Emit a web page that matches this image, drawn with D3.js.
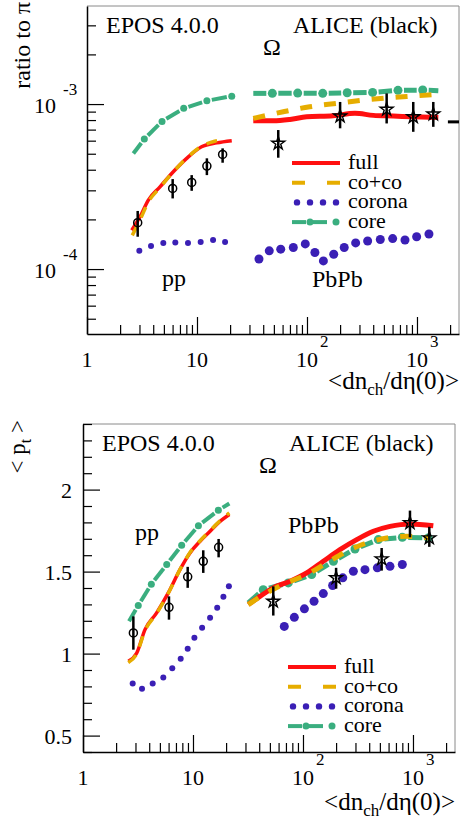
<!DOCTYPE html>
<html>
<head>
<meta charset="utf-8">
<script src="https://cdn.jsdelivr.net/npm/d3@7/dist/d3.min.js"></script>
<style>
  body { margin: 0; background: #fff; }
  svg { display: block; }
</style>
</head>
<body>
<div id="chart"></div>
<script>
// ---- data ----
const xDomain = [1, 2410];
const ratioDomain = [4.04e-5, 3.93e-3];
const ptDomain = [0.4, 2.4];

const xTickValues = [1, 10, 100, 1000];
const xTickText = ['1', '10', '10^2', '10^3'];
const ratioTickValues = [1e-4, 1e-3];
const ratioTickText = ['10^-4', '10^-3'];
const ptTickValues = [0.5, 1, 1.5, 2];
const ptTickText = ['0.5', '1', '1.5', '2'];

const legendLabels = ['full', 'co+co', 'corona', 'core'];

// ratio to pi : pp
const ratioFullPP = [[2.55,1.72e-4],[3.03,2.07e-4],[3.61,2.62e-4],[4.61,3.15e-4],[6.09,3.89e-4],[8.06,4.69e-4],[11.0,5.51e-4],[15.1,5.82e-4],[20.7,6.0e-4]];
const ratioCocoPP = [[2.58,1.6e-4],[3.05,2.0e-4],[3.61,2.55e-4],[4.61,3.12e-4],[6.09,3.88e-4],[8.06,4.7e-4],[11.0,5.55e-4],[14.5,5.95e-4],[17.8,6.12e-4]];
const ratioCorePP = [[2.64,5.02e-4,0],[3.32,6.14e-4,1],[4.81,7.85e-4,1],[7.57,9.42e-4,1],[12.3,1.047e-3,1],[20.7,1.117e-3,1]];
const ratioCoronaPP = [[2.99,1.29e-4],[3.82,1.38e-4],[4.94,1.44e-4],[6.35,1.45e-4],[8.28,1.44e-4],[10.8,1.46e-4],[14.0,1.50e-4],[18.0,1.46e-4]];
const ratioAlicePP = [[2.89,1.91e-4,1.57e-4,2.25e-4],[6.01,3.08e-4,2.68e-4,3.51e-4],[8.95,3.35e-4,2.98e-4,3.71e-4],[12.3,4.21e-4,3.71e-4,4.69e-4],[17.1,4.95e-4,4.41e-4,5.39e-4]];

// ratio to pi : PbPb
const ratioFullAA = [[32.5,7.92e-4],[49.4,7.92e-4],[70,8.07e-4],[99.4,8.37e-4],[173,8.49e-4],[273,8.79e-4],[401,8.54e-4],[609,8.46e-4],[925,8.37e-4],[1563,8.30e-4]];
const ratioCocoAA = [[32.5,8.19e-4],[60.9,8.98e-4],[106,9.63e-4],[186,1.01e-3],[325,1.057e-3],[569,1.092e-3],[925,1.118e-3],[1563,1.146e-3]];
const ratioCoreAA = [[32.5,1.161e-3,0],[48.4,1.161e-3,1],[82.3,1.166e-3,1],[139,1.161e-3,1],[232,1.171e-3,1],[395,1.177e-3,1],[672,1.211e-3,1],[1127,1.216e-3,1],[1563,1.204e-3,0]];
const ratioCoronaAA = [[36.6,1.15e-4],[45.4,1.29e-4],[57.7,1.32e-4],[75.1,1.35e-4],[96.5,1.42e-4],[118,1.26e-4],[141,1.12e-4],[175,1.23e-4],[218,1.35e-4],[277,1.44e-4],[356,1.48e-4],[464,1.51e-4],[601,1.53e-4],[778,1.50e-4],[993,1.57e-4],[1285,1.63e-4]];
const ratioAliceAA = [[54.8,5.78e-4,4.73e-4,6.96e-4],[200,8.46e-4,7.13e-4,1.03e-3],[530,9.29e-4,7.63e-4,1.161e-3],[925,8.37e-4,6.79e-4,1.03e-3],[1407,8.70e-4,7.28e-4,1.03e-3]];
const ratioEdgeMark = [[1910,7.8e-4],[2410,7.8e-4]];

// <pt> : pp
const ptFullPP = [[2.58,0.953],[3.08,1.004],[3.66,1.146],[4.67,1.248],[5.96,1.370],[7.61,1.512],[9.39,1.614],[11.6,1.685],[14.3,1.746],[17.0,1.797],[21.4,1.848]];
const ptCocoPP = [[2.58,0.945],[3.08,1.0],[3.66,1.14],[4.67,1.245],[5.96,1.368],[7.61,1.512],[9.39,1.616],[11.6,1.688],[14.3,1.75],[17.0,1.80],[21.4,1.858]];
const ptCorePP = [[2.62,1.197,0],[3.18,1.293,1],[4.18,1.423,1],[5.77,1.543,1],[7.89,1.660,1],[11.2,1.780,1],[17.0,1.874,1],[21.4,1.915,0]];
const ptCoronaPP = [[2.83,0.817],[3.44,0.785],[4.30,0.817],[5.37,0.855],[6.48,0.910],[7.73,0.968],[8.95,1.030],[10.3,1.096],[12.1,1.157],[14.3,1.218],[16.6,1.279],[18.9,1.346],[21.2,1.410]];
const ptAlicePP = [[2.87,1.126,1.024,1.227],[6.05,1.282,1.207,1.349],[8.95,1.468,1.401,1.529],[12.4,1.563,1.492,1.630],[17.1,1.648,1.587,1.699]];

// <pt> : PbPb
const ptFullAA = [[31.8,1.299],[40.6,1.349],[53.7,1.401],[76.2,1.441],[108,1.492],[153,1.563],[217,1.634],[308,1.695],[436,1.746],[618,1.776],[939,1.791],[1530,1.780]];
const ptCocoAA = [[31.8,1.299],[46.8,1.370],[71.1,1.431],[108,1.482],[164,1.553],[250,1.624],[380,1.675],[577,1.705],[877,1.715],[1428,1.705]];
const ptCoreAA = [[31.8,1.31,0],[43.5,1.390,1],[73.5,1.431,1],[120,1.482,1],[189,1.563,1],[297,1.638,1],[484,1.695,1],[800,1.709,1],[1377,1.705,1]];
const ptCoronaAA = [[67.6,1.166],[83.4,1.221],[103,1.273],[126,1.319],[153,1.366],[186,1.415],[230,1.462],[287,1.502],[366,1.512],[474,1.523],[618,1.532],[800,1.543]];
const ptAliceAA = [[53.7,1.319,1.232,1.410],[200,1.462,1.396,1.523],[519,1.577,1.506,1.644],[939,1.797,1.709,1.872],[1407,1.705,1.651,1.773]];

// ---- drawing ----
const W = 460, H = 818;
const FONT = '"Liberation Serif", "Times New Roman", serif';
const colors = { full: '#ff1010', coco: '#e6ad00', corona: '#3a1fb5', core: '#3aae7f' };

const svg = d3.select('#chart').append('svg')
  .attr('width', W)
  .attr('height', H);

// text with ^{..} (superscript) and _{..} (subscript) pieces
function richText(sel, str, mainSize, subSize) {
  const tokens = [];
  str.replace(/([\^_])\{([^}]*)\}|([^\^_]+)/g, (all, mark, inner, plain) => {
    tokens.push(mark ? { mark, t: inner } : { t: plain });
  });
  sel.style('font-size', mainSize + 'px').style('white-space', 'pre');
  let cur = 0;
  tokens.forEach(tk => {
    const target = tk.mark === '^' ? -12 : tk.mark === '_' ? 6 : 0;
    sel.append('tspan')
      .attr('dy', target - cur)
      .style('font-size', (tk.mark ? subSize : mainSize) + 'px')
      .text(tk.t);
    cur = target;
  });
}

function isDecade(d) {
  const l = Math.log10(d);
  return Math.abs(l - Math.round(l)) < 1e-6;
}

function coreLine(g, x, y, pts, w, r) {
  const px = pts.map(d => [x(d[0]), y(d[1]), d[2]]);
  const segs = d3.pairs(px).map(([a, b]) => {
    const dx = b[0] - a[0], dy = b[1] - a[1], L = Math.hypot(dx, dy);
    const ux = dx / L, uy = dy / L;
    const s = a[2] ? r + 1.5 : 0, e = b[2] ? r + 1.5 : 0;
    return [a[0] + ux * s, a[1] + uy * s, b[0] - ux * e, b[1] - uy * e];
  });
  g.selectAll(null).data(segs).join('line')
    .attr('x1', d => d[0]).attr('y1', d => d[1])
    .attr('x2', d => d[2]).attr('y2', d => d[3])
    .attr('stroke', colors.core)
    .attr('stroke-width', w);
  g.selectAll(null).data(pts.filter(d => d[2])).join('circle')
    .attr('cx', d => x(d[0])).attr('cy', d => y(d[1]))
    .attr('r', r)
    .attr('fill', colors.core);
}

function curve(g, x, y, pts, color, w, dash) {
  const line = d3.line().x(d => x(d[0])).y(d => y(d[1])).curve(d3.curveMonotoneX);
  g.append('path')
    .datum(pts)
    .attr('d', line)
    .attr('fill', 'none')
    .attr('stroke', color)
    .attr('stroke-width', w)
    .attr('stroke-dasharray', dash || null);
}

function dots(g, x, y, pts, r) {
  g.selectAll(null).data(pts).join('circle')
    .attr('cx', d => x(d[0])).attr('cy', d => y(d[1]))
    .attr('r', r)
    .attr('fill', colors.corona);
}

function alice(g, x, y, pts, star) {
  g.selectAll(null).data(pts).join('line')
    .attr('x1', d => x(d[0])).attr('x2', d => x(d[0]))
    .attr('y1', d => y(d[2])).attr('y2', d => y(d[3]))
    .attr('stroke', '#000')
    .attr('stroke-width', 2.5);
  if (star) {
    const sym = d3.symbol().type(d3.symbolStar).size(52);
    g.selectAll(null).data(pts).join('path')
      .attr('transform', d => `translate(${x(d[0])},${y(d[1])})`)
      .attr('d', sym)
      .attr('fill', 'none')
      .attr('stroke', '#000')
      .attr('stroke-width', 1.4);
  } else {
    g.selectAll(null).data(pts).join('circle')
      .attr('cx', d => x(d[0])).attr('cy', d => y(d[1]))
      .attr('r', 4)
      .attr('fill', 'none')
      .attr('stroke', '#000')
      .attr('stroke-width', 1.5);
  }
}

function drawPanel(p) {
  const g = svg.append('g');
  const x = d3.scaleLog().domain(xDomain).range([p.x0, p.x1]);
  const y = p.log
    ? d3.scaleLog().domain(p.yDomain).range([p.y1, p.y0])
    : d3.scaleLinear().domain(p.yDomain).range([p.y1, p.y0]);

  // frame (top/right)
  g.append('path')
    .attr('d', `M${p.x0},${p.y0}H${p.x1}V${p.y1}`)
    .attr('fill', 'none')
    .attr('stroke', '#8a8a8a')
    .attr('stroke-width', 1);

  // x axis ticks
  const xt = x.ticks();
  g.append('g').attr('transform', `translate(0,${p.y1})`)
    .call(d3.axisBottom(x).tickValues(xt.filter(d => !isDecade(d))).tickSize(-9).tickSizeOuter(0).tickFormat(''));
  const xAxisMajor = g.append('g').attr('transform', `translate(0,${p.y1})`)
    .call(d3.axisBottom(x).tickValues(xt.filter(isDecade)).tickSize(-17).tickSizeOuter(0).tickFormat(''));
  xAxisMajor.select('.domain').remove();

  // y axis ticks
  let yMinor, yMajor;
  if (p.log) {
    const yt = y.ticks();
    yMinor = yt.filter(d => !isDecade(d));
    yMajor = yt.filter(isDecade);
  } else {
    yMinor = y.ticks(20).filter(d => !ptTickValues.includes(+d.toFixed(2)));
    yMajor = ptTickValues;
  }
  g.append('g').attr('transform', `translate(${p.x0},0)`)
    .call(d3.axisLeft(y).tickValues(yMinor).tickSize(-9).tickSizeOuter(0).tickFormat(''));
  const yAxisMajor = g.append('g').attr('transform', `translate(${p.x0},0)`)
    .call(d3.axisLeft(y).tickValues(yMajor).tickSize(-17).tickSizeOuter(0).tickFormat(''));
  yAxisMajor.select('.domain').remove();

  g.selectAll('.tick line').attr('stroke', '#000').attr('stroke-width', 1.2);
  g.selectAll('.domain').attr('stroke', '#000').attr('stroke-width', 1.5);
  g.selectAll('.tick text').remove();

  // x tick labels
  xTickValues.forEach((v, i) => {
    const [base, exp] = xTickText[i].split('^');
    g.append('text')
      .attr('x', x(v)).attr('y', p.y1 + 33)
      .attr('text-anchor', 'middle')
      .style('font-size', '22px')
      .text(base);
    if (exp) {
      g.append('text')
        .attr('x', x(v) + 13).attr('y', p.y1 + 13)
        .style('font-size', '17px')
        .text(exp);
    }
  });

  // y tick labels
  p.yTickValues.forEach((v, i) => {
    const [base, exp] = p.yTickText[i].split('^');
    if (exp) {
      g.append('text')
        .attr('x', p.x0 - 31).attr('y', y(v) + 9)
        .attr('text-anchor', 'end')
        .style('font-size', '22px')
        .text(base);
      g.append('text')
        .attr('x', p.x0 - 24).attr('y', y(v) - 9)
        .style('font-size', '17px')
        .text(exp);
    } else {
      g.append('text')
        .attr('x', p.x0 - 11).attr('y', y(v) + 8)
        .attr('text-anchor', 'end')
        .style('font-size', '22px')
        .text(base);
    }
  });

  // axis titles
  g.append('text')
    .attr('x', p.x1).attr('y', p.y1 + p.xTitleDy)
    .attr('text-anchor', 'end')
    .call(richText, '<dn_{ch}/dη(0)>', 25, 17);
  g.append('text')
    .attr('transform', `translate(${p.yTitleX},${p.y0 - 4}) rotate(-90)`)
    .attr('text-anchor', 'end')
    .call(richText, p.yTitle, p.yTitleSize, 16);

  // curves
  const plot = g.append('g');
  coreLine(plot, x, y, p.data.corePP, 4, 3.5);
  coreLine(plot, x, y, p.data.coreAA, 5, 4.5);
  curve(plot, x, y, p.data.fullPP, colors.full, 3.5);
  curve(plot, x, y, p.data.fullAA, colors.full, 5);
  curve(plot, x, y, p.data.cocoPP, colors.coco, 3.5, '11,9');
  curve(plot, x, y, p.data.cocoAA, colors.coco, 5, '12,12');
  dots(plot, x, y, p.data.coronaPP, 3);
  dots(plot, x, y, p.data.coronaAA, 4.5);
  alice(plot, x, y, p.data.alicePP, false);
  alice(plot, x, y, p.data.aliceAA, true);
  if (p.data.edge) {
    curve(plot, x, y, p.data.edge, '#000', 3);
  }

  // annotations
  const ann = [
    ['EPOS 4.0.0', p.x0 + 19, p.y0 + 27],
    ['ALICE (black)', p.x0 + 206, p.y0 + 27],
    ['Ω', p.x0 + 176, p.y0 + 49],
    ['pp', p.ppPos[0], p.ppPos[1]],
    ['PbPb', p.aaPos[0], p.aaPos[1]]
  ];
  g.selectAll(null).data(ann).join('text')
    .attr('x', d => d[1]).attr('y', d => d[2])
    .style('font-size', '24px')
    .text(d => d[0]);

  // legend
  const lg = g.append('g').attr('transform', `translate(${p.legend[0]},${p.legend[1]})`);
  const step = 19.7;
  lg.append('line').attr('x1', 0).attr('x2', 48).attr('y1', 0).attr('y2', 0)
    .attr('stroke', colors.full).attr('stroke-width', 4);
  lg.append('line').attr('x1', 0).attr('x2', 48).attr('y1', step).attr('y2', step)
    .attr('stroke', colors.coco).attr('stroke-width', 4).attr('stroke-dasharray', '13,22');
  lg.selectAll(null).data([5, 18, 31, 44]).join('circle')
    .attr('cx', d => d).attr('cy', step * 2).attr('r', 3.2).attr('fill', colors.corona);
  lg.selectAll(null).data([[0, 14], [21, 35]]).join('line')
    .attr('x1', d => d[0]).attr('x2', d => d[1]).attr('y1', step * 3).attr('y2', step * 3)
    .attr('stroke', colors.core).attr('stroke-width', 4);
  lg.selectAll(null).data([18, 44]).join('circle')
    .attr('cx', d => d).attr('cy', step * 3).attr('r', 3.5).attr('fill', colors.core);
  lg.selectAll(null).data(legendLabels).join('text')
    .attr('x', 56).attr('y', (d, i) => i * step + 6)
    .style('font-size', '22px')
    .text(d => d);
}

drawPanel({
  x0: 87, x1: 459, y0: 6, y1: 334,
  log: true, yDomain: ratioDomain,
  yTickValues: ratioTickValues, yTickText: ratioTickText,
  yTitle: 'ratio to π', yTitleX: 30, yTitleSize: 24,
  xTitleDy: 55,
  ppPos: [162, 286], aaPos: [312, 287],
  legend: [292, 163],
  data: {
    fullPP: ratioFullPP, cocoPP: ratioCocoPP, corePP: ratioCorePP, coronaPP: ratioCoronaPP, alicePP: ratioAlicePP,
    fullAA: ratioFullAA, cocoAA: ratioCocoAA, coreAA: ratioCoreAA, coronaAA: ratioCoronaAA, aliceAA: ratioAliceAA,
    edge: ratioEdgeMark
  }
});

drawPanel({
  x0: 83, x1: 455, y0: 424, y1: 752,
  log: false, yDomain: ptDomain,
  yTickValues: ptTickValues, yTickText: ptTickText,
  yTitle: '< p_{t} >', yTitleX: 25, yTitleSize: 23,
  xTitleDy: 58,
  ppPos: [135, 540], aaPos: [288, 533],
  legend: [288, 667],
  data: {
    fullPP: ptFullPP, cocoPP: ptCocoPP, corePP: ptCorePP, coronaPP: ptCoronaPP, alicePP: ptAlicePP,
    fullAA: ptFullAA, cocoAA: ptCocoAA, coreAA: ptCoreAA, coronaAA: ptCoronaAA, aliceAA: ptAliceAA
  }
});

// serif font on every text, set directly
svg.selectAll('text').attr('font-family', FONT).style('font-family', FONT);
</script>
</body>
</html>
